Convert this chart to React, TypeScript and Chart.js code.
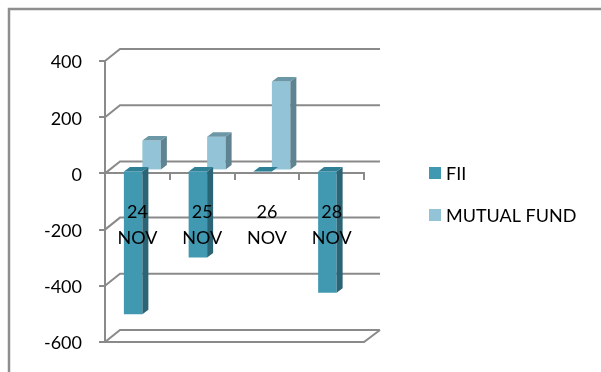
import React, { useEffect, useRef } from "react";
import { Chart, registerables } from "chart.js";

Chart.register(...registerables);

const categories = [["24", "NOV"], ["25", "NOV"], ["26", "NOV"], ["28", "NOV"]];
const fiiValues = [-512, -310, -4, -435];
const mutualFundValues = [106, 120, 316, 0];
const fiiLabel = "FII";
const mutualFundLabel = "MUTUAL FUND";

const palette = [
  { front: "#4198b1", side: "#2b6474", top: "#2f7f95" },
  { front: "#93c3d6", side: "#5f8391", top: "#6b97a6" },
];
const lineColor = "#8a8a8a";
const fontFamily = "Lato, 'Open Sans', sans-serif";

// Depth of the wall behind the plot and of each bar.
const wallDepth = { x: 15, y: -12 };
const barDepth = { x: 6, y: -4.5 };
const barShift = { x: 5, y: -3 };

const pseudo3d = {
  id: "pseudo3d",
  beforeDraw(chart: any) {
    const { ctx, width, height } = chart;
    ctx.save();
    ctx.fillStyle = "#ffffff";
    ctx.fillRect(0, 0, width, height);
    ctx.strokeStyle = "#8e8e8e";
    ctx.lineWidth = 2.5;
    ctx.beginPath();
    ctx.moveTo(9, height);
    ctx.lineTo(9, 9);
    ctx.lineTo(width, 9);
    ctx.stroke();
    ctx.restore();
  },
  beforeDatasetsDraw(chart: any) {
    const { ctx, chartArea, scales } = chart;
    const y = scales.y;
    ctx.save();
    ctx.strokeStyle = lineColor;
    ctx.lineWidth = 2;
    y.ticks.forEach((tick: any) => {
      const py = y.getPixelForValue(tick.value);
      ctx.beginPath();
      ctx.moveTo(chartArea.left, py);
      ctx.lineTo(chartArea.left + wallDepth.x, py + wallDepth.y);
      ctx.lineTo(chartArea.right + wallDepth.x + 1, py + wallDepth.y);
      ctx.stroke();
    });
    // Floor: front edge and right-hand diagonal.
    ctx.beginPath();
    ctx.moveTo(chartArea.left, chartArea.bottom);
    ctx.lineTo(chartArea.right, chartArea.bottom);
    ctx.lineTo(chartArea.right + wallDepth.x + 1, chartArea.bottom + wallDepth.y);
    ctx.stroke();
    ctx.restore();

    // Bars sit a little inside the depth of the plot.
    ctx.save();
    ctx.translate(barShift.x, barShift.y);
  },
  afterDatasetsDraw(chart: any) {
    const { ctx } = chart;
    // The lighter series goes first so the darker top faces overlap it.
    [1, 0].forEach((datasetIndex) => {
      const colors = palette[datasetIndex];
      const values = chart.data.datasets[datasetIndex].data;
      chart.getDatasetMeta(datasetIndex).data.forEach((bar: any, i: number) => {
        if (values[i] === 0) return;
        const left = bar.x - bar.width / 2;
        const right = bar.x + bar.width / 2;
        const upper = Math.min(bar.y, bar.base);
        const lower = Math.max(bar.y, bar.base);
        ctx.fillStyle = colors.side;
        ctx.beginPath();
        ctx.moveTo(right, upper);
        ctx.lineTo(right + barDepth.x, upper + barDepth.y);
        ctx.lineTo(right + barDepth.x, lower + barDepth.y);
        ctx.lineTo(right, lower);
        ctx.closePath();
        ctx.fill();
        ctx.fillStyle = colors.top;
        ctx.beginPath();
        ctx.moveTo(left, upper);
        ctx.lineTo(left + barDepth.x, upper + barDepth.y);
        ctx.lineTo(right + barDepth.x, upper + barDepth.y);
        ctx.lineTo(right, upper);
        ctx.closePath();
        ctx.fill();
      });
    });
    ctx.restore();
  },
  afterDraw(chart: any) {
    const { ctx } = chart;
    ctx.save();
    ctx.font = `18px ${fontFamily}`;
    ctx.textBaseline = "middle";
    chart.data.datasets.forEach((dataset: any, i: number) => {
      const cy = 173 + i * 42;
      ctx.fillStyle = dataset.backgroundColor;
      ctx.fillRect(429, cy - 6, 12, 12);
      ctx.fillStyle = "#000000";
      ctx.fillText(dataset.label, 446, cy + 1);
    });
    ctx.restore();
  },
};

export default function App() {
  const canvasRef = useRef<HTMLCanvasElement | null>(null);

  useEffect(() => {
    const chart = new Chart(canvasRef.current as HTMLCanvasElement, {
      type: "bar",
      data: {
        labels: categories,
        datasets: [
          { label: fiiLabel, data: fiiValues, backgroundColor: palette[0].front, borderWidth: 0 },
          { label: mutualFundLabel, data: mutualFundValues, backgroundColor: palette[1].front, borderWidth: 0 },
        ],
      },
      options: {
        animation: false,
        responsive: false,
        layout: { padding: { top: 61, left: 0, right: 237, bottom: 30 } },
        datasets: { bar: { categoryPercentage: 0.571, barPercentage: 1 } },
        plugins: { legend: { display: false }, tooltip: { enabled: false }, title: { display: false } },
        scales: {
          x: {
            position: { y: 0 },
            grid: { drawOnChartArea: false, color: lineColor, lineWidth: 2, tickLength: 6 },
            border: { color: lineColor, width: 2 },
            ticks: {
              z: 1,
              color: "#000000",
              padding: 20,
              maxRotation: 0,
              autoSkip: false,
              font: { family: fontFamily, size: 18, lineHeight: 26 / 18 },
            },
          },
          y: {
            min: -600,
            max: 400,
            afterFit(scale: any) {
              scale.width = 105;
            },
            grid: { drawOnChartArea: false, color: lineColor, lineWidth: 2, tickLength: 6 },
            border: { color: lineColor, width: 2 },
            ticks: {
              stepSize: 200,
              color: "#000000",
              padding: 17,
              labelOffset: 1.5,
              font: { family: fontFamily, size: 18 },
            },
          },
        },
      } as any,
      plugins: [pseudo3d],
    });
    return () => chart.destroy();
  }, []);

  return (
    <div style={{ position: "absolute", left: 0, top: 0, width: 601, height: 372 }}>
      <canvas ref={canvasRef} width={601} height={372} style={{ display: "block" }} />
    </div>
  );
}
